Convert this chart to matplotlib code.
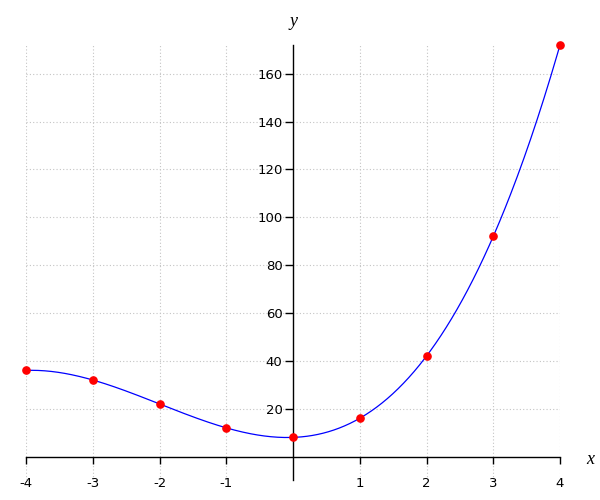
import numpy as np
import matplotlib
matplotlib.use("Agg")
import matplotlib.pyplot as plt

# Data
x_points = [-4, -3, -2, -1, 0, 1, 2, 3, 4]
y_points = [36, 32, 22, 12, 8, 16, 42, 92, 172]
x_ticks = [-4, -3, -2, -1, 1, 2, 3, 4]
y_ticks = [20, 40, 60, 80, 100, 120, 140, 160]

fig = plt.figure(figsize=(6, 5), dpi=100)
ax = fig.add_axes([26/600, 1-480/500, (560-26)/600, (480-45)/500])

# smooth curve through the points (cubic least-squares fit of the data)
coef = np.polyfit(x_points, y_points, 3)
xs = np.linspace(min(x_points), max(x_points), 400)
ax.plot(xs, np.polyval(coef, xs), color="#0000ff", lw=0.9, zorder=3, clip_on=False)
ax.plot(x_points, y_points, "o", color="#ff0000", ms=5.2, zorder=4, clip_on=False)

ax.set_xlim(-4, 4)
ax.set_ylim(-9.8, 172)

for s in ["top", "right"]:
    ax.spines[s].set_visible(False)
ax.spines["left"].set_position(("data", 0))
ax.spines["bottom"].set_position(("data", 0))
for s in ["left", "bottom"]:
    ax.spines[s].set_linewidth(1.0)
    ax.spines[s].set_color("black")

ax.set_xticks(x_ticks)
ax.set_xticklabels([str(t) for t in x_ticks])
ax.set_yticks(y_ticks)
ax.set_yticklabels([str(t) for t in y_ticks])
ax.tick_params(axis="x", direction="out", length=5, width=1, pad=10, labelsize=9.5)
ax.tick_params(axis="y", direction="out", length=6, width=1, pad=1.5, labelsize=9.5)

ax.grid(True, linestyle=(0, (1, 2)), color="#c4c4c4", lw=0.8)
ax.set_axisbelow(True)

fig.text(293/600, 1-22/500, "y", ha="center", va="center", family="Liberation Serif",
         style="italic", fontsize=13)
fig.text(590/600, 1-459/500, "x", ha="center", va="center", family="Liberation Serif",
         style="italic", fontsize=13)

fig.savefig("out.png", dpi=100)
